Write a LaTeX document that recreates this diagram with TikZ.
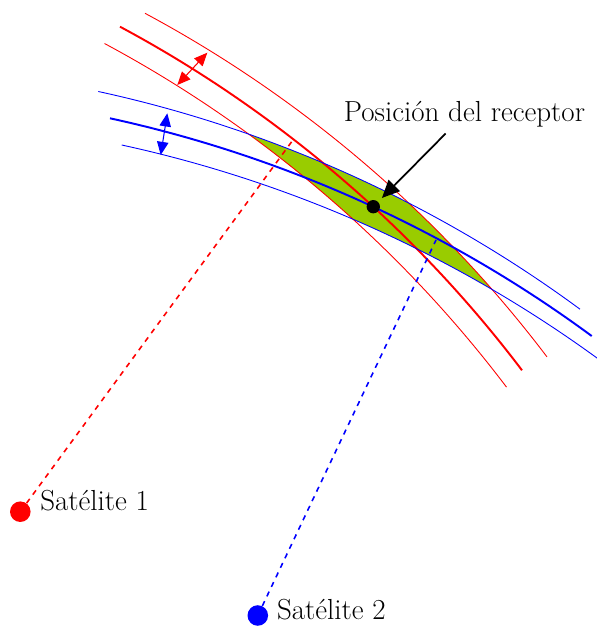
\documentclass[tikz,border=0pt]{standalone}
\usepackage{tikz}
\usetikzlibrary{arrows.meta,positioning,calc}
\definecolor{zonegreen}{HTML}{99CC00}
\tikzset{
  rangethin/.style={line width=0.5pt},
  rangethick/.style={line width=1.1pt},
  redarc/.style={draw=red, bend left=12.35, looseness=0.86},
  bluearc/.style={draw=blue, bend left=12.07, looseness=0.86},
  satdot/.style={circle, inner sep=0pt, minimum size=11.7pt},
  recdot/.style={circle, fill=black, inner sep=0pt, minimum size=7.6pt},
  lbl/.style={font=\fontsize{16.5}{20}\selectfont},
  widthar/.style={{Triangle[length=7.5pt,width=6.5pt]}-{Triangle[length=7.5pt,width=6.5pt]}, line width=0.6pt},
  pointar/.style={-{Triangle[length=10pt,width=9pt]}, line width=1pt, shorten >=3pt},
  raydash/.style={dashed, line width=0.9pt}
}
\begin{document}
\begin{tikzpicture}[x=0.02cm, y=0.02cm]
  \useasboundingbox (0,0) rectangle (597,627);

  % ends of the range arcs
  \coordinate (rs)  at (120,600.3);   \coordinate (re)  at (522,256.7);
  \coordinate (ros) at (145,613.7);   \coordinate (roe) at (547,270.1);
  \coordinate (ris) at (104.5,583.5); \coordinate (rie) at (506.5,239.9);
  \coordinate (bs)  at (110,508.7);   \coordinate (be)  at (591.7,291);
  \coordinate (bos) at (98.3,535.5);  \coordinate (boe) at (580,317.8);
  \coordinate (bis) at (121.7,482);   \coordinate (bie) at (603.4,264.3);

  % zone where both bands meet
  \begin{scope}
    \clip (ros) to[bend left=12.35,looseness=0.86] (roe) -- (rie)
      to[bend right=12.35,looseness=0.86] (ris) -- cycle;
    \fill[zonegreen] (bos) to[bend left=12.07,looseness=0.86] (boe) -- (bie)
      to[bend right=12.07,looseness=0.86] (bis) -- cycle;
  \end{scope}

  % range arcs
  \draw[redarc,rangethin]   (ros) to (roe);
  \draw[redarc,rangethick]  (rs)  to (re);
  \draw[redarc,rangethin]   (ris) to (rie);
  \draw[bluearc,rangethin]  (bos) to (boe);
  \draw[bluearc,rangethick] (bs)  to (be);
  \draw[bluearc,rangethin]  (bis) to (bie);

  % satellites
  \node[satdot, fill=red]  (sat1) at (20.3,115.3) {};
  \node[satdot, fill=blue] (sat2) at (257.8,11.5) {};
  \node[lbl, anchor=base west] (sat1lbl) at (34.1,116.3) {Satélite 1};
  \node[lbl, anchor=base west] (sat2lbl) at (270.8,7.7) {Satélite 2};

  \coordinate (hit1) at (291.7,485.3);
  \coordinate (hit2) at (436,387);
  \draw[raydash, red]  (sat1) -- (hit1);
  \draw[raydash, blue] (sat2) -- (hit2);

  % band widths
  \coordinate (rw1) at (177.3,542);  \coordinate (rw2) at (207.3,574.3);
  \coordinate (bw1) at (160.7,472);  \coordinate (bw2) at (167.3,513.7);
  \draw[widthar, red]  (rw1) -- (rw2);
  \draw[widthar, blue] (bw1) -- (bw2);

  % receiver
  \node[recdot] (rec) at (373.3,420.3) {};
  \node[lbl, anchor=base] (reclbl) at (464.5,505.3) {Posición del receptor};
  \draw[pointar] (reclbl) -- (rec);
\end{tikzpicture}
\end{document}
